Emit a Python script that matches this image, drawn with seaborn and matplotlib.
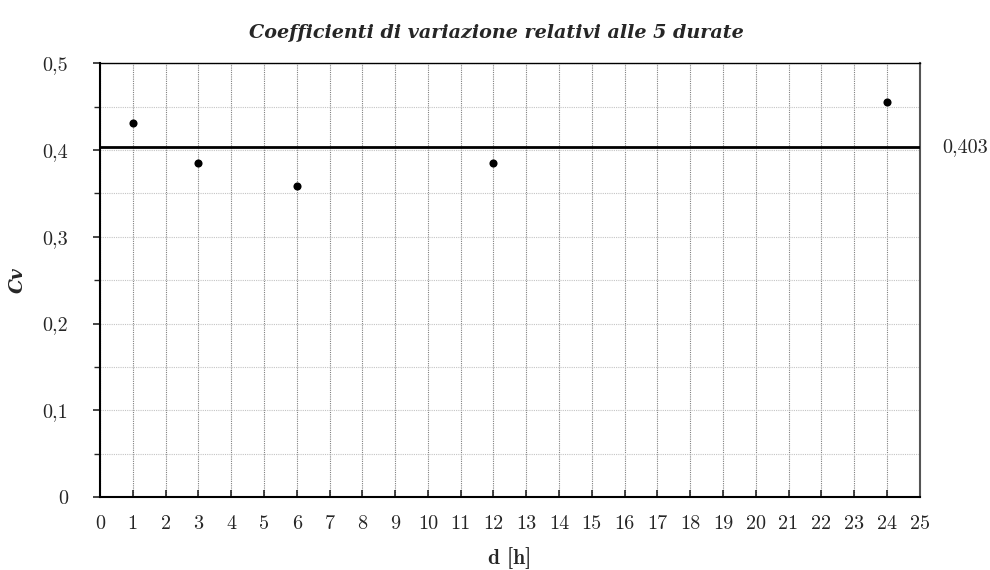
import matplotlib
matplotlib.use("Agg")
import matplotlib.pyplot as plt
import seaborn as sns
import pandas as pd
from matplotlib.ticker import MultipleLocator

# Durations (hours) and coefficient of variation for each
durations = [1, 3, 6, 12, 24]
cv_values = [0.431, 0.385, 0.359, 0.385, 0.455]
cv_mean = 0.403
mean_label = "0,403"

x_ticks = list(range(0, 26))
y_ticks = [0.0, 0.1, 0.2, 0.3, 0.4, 0.5]
y_tick_labels = ["0", "0,1", "0,2", "0,3", "0,4", "0,5"]

title = "Coefficienti di variazione relativi alle 5 durate"
x_label = "d [h]"
y_label = "Cv"

sns.set_style("white")
plt.rcParams["font.family"] = ["cmr10", "DejaVu Serif"]
plt.rcParams["axes.unicode_minus"] = False
plt.rcParams["mathtext.fontset"] = "cm"

df = pd.DataFrame({"d": durations, "cv": cv_values})

fig = plt.figure(figsize=(9.9, 5.7), dpi=100)
ax = fig.add_axes([0.101, 0.128, 0.828, 0.761])

# gridlines
ax.set_xlim(0, 25)
ax.set_ylim(0, 0.5)
ax.set_xticks(x_ticks)
ax.set_xticklabels([str(v) for v in x_ticks])
ax.set_yticks(y_ticks)
ax.set_yticklabels(y_tick_labels)
ax.yaxis.set_minor_locator(MultipleLocator(0.05))
ax.grid(True, axis="x", which="major", linestyle=(0, (1, 1)), color="#808080", linewidth=0.8)
ax.grid(True, axis="y", which="both", linestyle=(0, (1, 1)), color="#c4c4c4", linewidth=0.8)
ax.set_axisbelow(True)

ax.axhline(cv_mean, color="black", linewidth=2.0, zorder=3)
sns.scatterplot(data=df, x="d", y="cv", ax=ax, color="black", s=34,
                edgecolor="black", linewidth=0, zorder=4, legend=False)

ax.text(1.027, cv_mean, mean_label, transform=ax.get_yaxis_transform(),
        ha="left", va="center", fontsize=14.5, family=["cmr10", "DejaVu Serif"])

for side in ["left", "bottom", "top"]:
    ax.spines[side].set_color("black")
ax.spines["left"].set_linewidth(1.5)
ax.spines["bottom"].set_linewidth(1.5)
ax.spines["top"].set_linewidth(1.0)
ax.spines["right"].set_color("#555555")
ax.spines["right"].set_linewidth(1.5)

ax.tick_params(axis="y", which="major", direction="out", length=5, width=1.2,
               labelsize=14.5, pad=18, left=True)
ax.tick_params(axis="y", which="minor", direction="out", length=4, width=1.0, left=True)
ax.tick_params(axis="x", which="major", direction="in", length=5, width=1.2,
               labelsize=14.5, pad=13, bottom=True)
for lab in ax.get_yticklabels():
    lab.set_horizontalalignment("right")

ax.set_title(title, fontsize=13.8, fontstyle="italic", fontweight="bold",
             family=["DejaVu Serif"], pad=18, x=0.483)
ax.set_xlabel(x_label, fontsize=15.5, fontweight="bold", family=["cmb10", "DejaVu Serif"], labelpad=10)
ax.set_ylabel(y_label, fontsize=13.5, fontstyle="italic", fontweight="bold",
              family=["DejaVu Serif"], labelpad=11)

fig.savefig("out.png", dpi=100)
